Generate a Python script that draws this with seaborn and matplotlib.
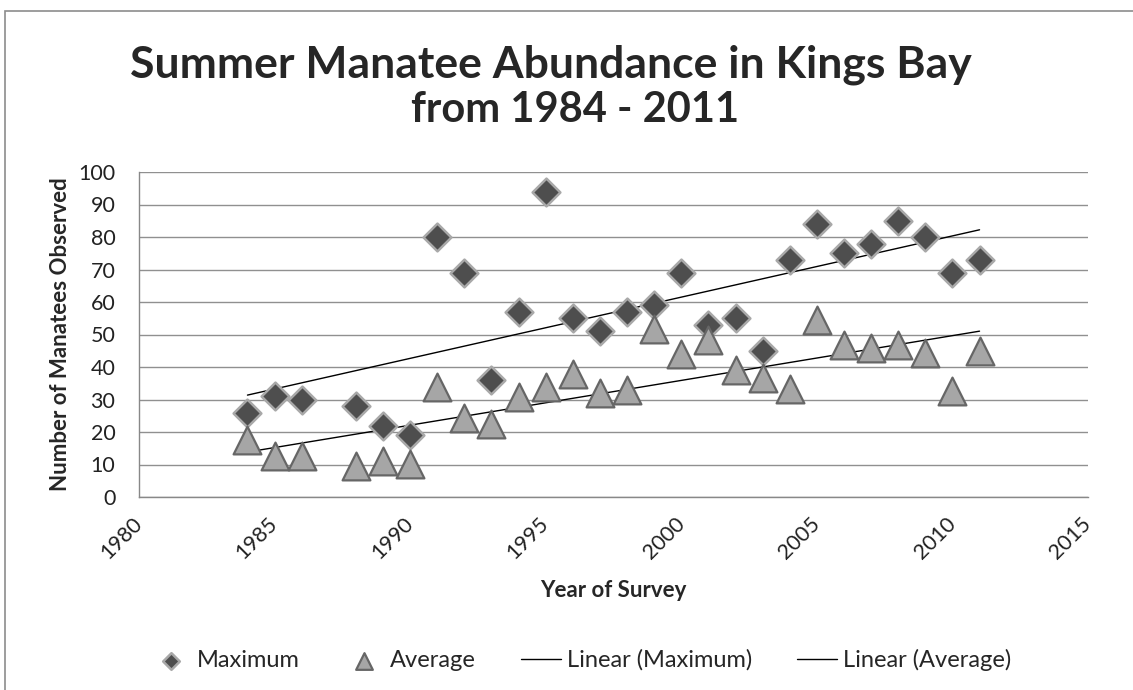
import matplotlib
matplotlib.use("Agg")
import matplotlib.pyplot as plt
import seaborn as sns
import pandas as pd
from matplotlib.patches import Rectangle

# survey data
years_max = [1984, 1985, 1986, 1988, 1989, 1990, 1991, 1992, 1993, 1994, 1995, 1996, 1997,
             1998, 1999, 2000, 2001, 2002, 2003, 2004, 2005, 2006, 2007, 2008, 2009, 2010, 2011]
maximum = [26, 31, 30, 28, 22, 19, 80, 69, 36, 57, 94, 55, 51,
           57, 59, 69, 53, 55, 45, 73, 84, 75, 78, 85, 80, 69, 73]
years_avg = years_max
average = [17.5, 12.5, 12.5, 9.5, 11, 10.3, 34, 24.3, 22.6, 30.7, 33.7, 37.8, 32,
           33, 51.7, 44, 48.4, 39, 36.6, 33.3, 54.5, 46.7, 45.8, 46.8, 44.4, 32.5, 45]

xticks = [1980, 1985, 1990, 1995, 2000, 2005, 2010, 2015]
yticks = list(range(0, 101, 10))

df_max = pd.DataFrame({"year": years_max, "n": maximum})
df_avg = pd.DataFrame({"year": years_avg, "n": average})

sns.set_style("white")
plt.rcParams["font.family"] = ["Lato", "DejaVu Sans"]

fig = plt.figure(figsize=(11.33, 6.9), dpi=100)
ax = fig.add_axes([139 / 1133, 1 - 497 / 690, 949 / 1133, 325 / 690])

# chart frame
fig.patches.append(Rectangle((5 / 1133, -0.1), 1.2, 1 - 11 / 690 + 0.1, transform=fig.transFigure,
                             fill=False, edgecolor="#8c8c8c", linewidth=1.2))

# trendlines
sns.regplot(data=df_max, x="year", y="n", scatter=False, ci=None, ax=ax,
            line_kws={"color": "black", "linewidth": 1}, label="Linear (Maximum)")
sns.regplot(data=df_avg, x="year", y="n", scatter=False, ci=None, ax=ax,
            line_kws={"color": "black", "linewidth": 1}, label="Linear (Average)")

sns.scatterplot(data=df_max, x="year", y="n", marker="D", s=200, color="#4e4e4e",
                edgecolor="#a8a8a8", linewidth=1.8, ax=ax, label="Maximum", zorder=3)
sns.scatterplot(data=df_avg, x="year", y="n", marker="^", s=400, color="#a6a6a6",
                edgecolor="#666666", linewidth=1.6, ax=ax, label="Average", zorder=3)

ax.set_xlim(1980, 2015)
ax.set_ylim(0, 100)
ax.set_xticks(xticks)
ax.set_yticks(yticks)
ax.set_xticklabels([str(t) for t in xticks], rotation=45, ha="right", va="center",
                   rotation_mode="anchor")
ax.tick_params(axis="both", labelsize=15.5, colors="#888888", labelcolor="#222222",
               direction="out", length=7, width=1)
ax.tick_params(axis="x", pad=10)
ax.tick_params(axis="y", pad=10)
ax.grid(axis="y", color="#909090", linewidth=1)
ax.set_axisbelow(True)
for side in ["top", "right"]:
    ax.spines[side].set_visible(False)
for side in ["left", "bottom"]:
    ax.spines[side].set_color("#888888")
    ax.spines[side].set_linewidth(1)

ax.set_xlabel("Year of Survey", fontsize=16, fontweight="bold", labelpad=12)
ax.set_ylabel("Number of Manatees Observed", fontsize=16, fontweight="bold", labelpad=5)

fig.text(551 / 1133, 1 - 65 / 690, "Summer Manatee Abundance in Kings Bay", ha="center",
         va="center", fontsize=32, fontweight="bold")
fig.text(575 / 1133, 1 - 110 / 690, "from 1984 - 2011", ha="center",
         va="center", fontsize=30, fontweight="bold")

ax.get_legend().remove()
h, l = ax.get_legend_handles_labels()
order = [l.index("Maximum"), l.index("Average"), l.index("Linear (Maximum)"), l.index("Linear (Average)")]
leg = fig.legend([h[i] for i in order], [l[i] for i in order], loc="center",
                 bbox_to_anchor=(581 / 1133, 1 - 660 / 690), ncol=4, frameon=False,
                 fontsize=17, handlelength=1.7, columnspacing=1.9, handletextpad=0.25,
                 markerscale=0.6)

fig.savefig("out.png", dpi=100)
